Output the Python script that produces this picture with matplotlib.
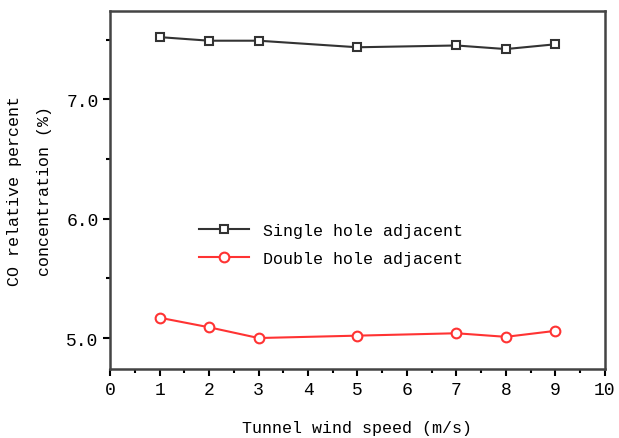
import matplotlib.pyplot as plt
from matplotlib.ticker import MultipleLocator, FormatStrFormatter

speed = [1, 2, 3, 5, 7, 8, 9]
single = [7.52, 7.49, 7.49, 7.435, 7.45, 7.42, 7.46]
double = [5.17, 5.09, 5.00, 5.02, 5.04, 5.01, 5.06]

plt.rcParams['font.family'] = ['Liberation Mono', 'DejaVu Sans Mono']

fig = plt.figure(figsize=(6.19, 4.39), dpi=100)
ax = fig.add_axes([0.178, 0.157, 0.799, 0.816])

ax.plot(speed, single, color='#333333', marker='s', markersize=6, mfc='white',
        mec='#333333', mew=1.5, lw=1.5, label='Single hole adjacent')
ax.plot(speed, double, color='#ff3333', marker='o', markersize=7, mfc='white',
        mec='#ff3333', mew=1.5, lw=1.5, label='Double hole adjacent')

ax.set_xlim(0, 10)
ax.set_ylim(4.74, 7.74)
ax.xaxis.set_major_locator(MultipleLocator(1))
ax.xaxis.set_minor_locator(MultipleLocator(0.5))
ax.set_yticks([5.0, 6.0, 7.0])
ax.yaxis.set_major_formatter(FormatStrFormatter('%.1f'))
ax.yaxis.set_minor_locator(MultipleLocator(0.5))
ax.tick_params(which='both', direction='out', width=1.5, labelsize=13)
ax.tick_params(which='major', length=5)
ax.tick_params(which='minor', length=3)
for s in ax.spines.values():
    s.set_linewidth(1.8)
    s.set_color('#444444')

ax.set_xlabel('Tunnel wind speed (m/s)', fontsize=12, labelpad=16)
ax.set_ylabel('CO relative percent\nconcentration (%)', fontsize=12,
              labelpad=10, linespacing=2.3)

ax.legend(loc='upper left', bbox_to_anchor=(0.15, 0.45), frameon=False,
          fontsize=12, handlelength=3, labelspacing=0.8)

fig.savefig('out.png', dpi=100)
